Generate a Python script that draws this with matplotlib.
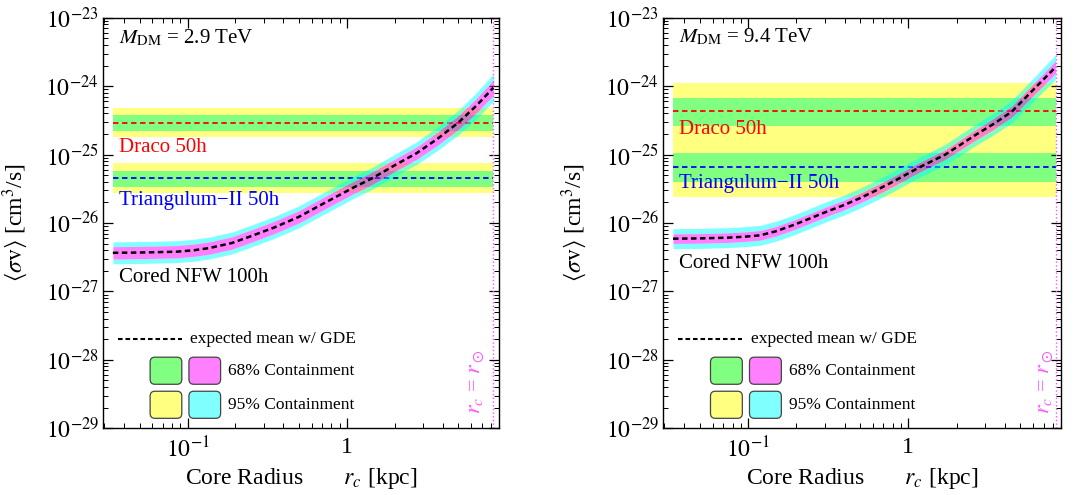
import numpy as np
import matplotlib
matplotlib.use("Agg")
import matplotlib.pyplot as plt
from matplotlib.patches import FancyBboxPatch
from matplotlib.ticker import FuncFormatter, FixedLocator, NullFormatter

plt.rcParams['font.family'] = ['Liberation Serif', 'DejaVu Serif']
plt.rcParams['mathtext.fontset'] = 'stix'

# expected mean <sigma v> vs core radius (kpc)
rc_left = [0.034, 0.05, 0.085, 0.11, 0.137, 0.19, 0.245, 0.35, 0.5, 0.66, 0.88,
           1.1, 1.44, 2.0, 2.74, 3.7, 5.0, 6.5, 8.3]
sv_left = [3.66e-27, 3.7e-27, 3.8e-27, 4.0e-27, 4.3e-27, 5.1e-27, 6.3e-27, 8.6e-27,
           1.23e-26, 1.75e-26, 2.5e-26, 3.3e-26, 4.5e-26, 7.0e-26, 1.05e-25,
           1.7e-25, 2.93e-25, 5.2e-25, 9.5e-25]
rc_right = [0.034, 0.05, 0.074, 0.095, 0.119, 0.15, 0.191, 0.24, 0.308, 0.39, 0.496,
            0.63, 0.80, 1.17, 1.7, 2.63, 3.4, 4.43, 6.2, 8.3]
sv_right = [5.9e-27, 5.95e-27, 6.1e-27, 6.3e-27, 6.6e-27, 7.6e-27, 9.3e-27, 1.15e-26,
            1.46e-26, 1.8e-26, 2.29e-26, 3.0e-26, 4.0e-26, 6.5e-26, 1.0e-25,
            1.94e-25, 2.8e-25, 4.25e-25, 9.5e-25, 1.9e-24]

# half widths of the containment bands in decades
w68_left = [0.09] * 15 + [0.095, 0.1, 0.105, 0.11]
w95_left = [0.16] * 14 + [0.165, 0.17, 0.18, 0.19, 0.2]
w68_right = [0.07] * 15 + [0.075, 0.08, 0.08, 0.085, 0.09]
w95_right = [0.146] * 14 + [0.15, 0.155, 0.16, 0.165, 0.17, 0.18]

# dwarf limits: 95% low, 68% low, mean, 68% high, 95% high
draco_left = [1.79e-25, 2.24e-25, 2.93e-25, 3.8e-25, 4.87e-25]
tri_left = [2.71e-26, 3.39e-26, 4.5e-26, 5.75e-26, 7.45e-26]
draco_right = [1.67e-25, 2.63e-25, 4.27e-25, 6.7e-25, 1.11e-24]
tri_right = [2.42e-26, 4.0e-26, 6.5e-26, 1.05e-25, 1.67e-25]

masses = ["2.9", "9.4"]
r_sun = 8.3

# axis ticks
x_major = [0.1, 1.0]
x_minor = [0.03, 0.04, 0.05, 0.06, 0.07, 0.08, 0.09, 0.2, 0.3, 0.4, 0.5, 0.6,
           0.7, 0.8, 0.9, 2, 3, 4, 5, 6, 7, 8, 9]
y_exps = [-29, -28, -27, -26, -25, -24, -23]

YELLOW = "#ffff80"
GREEN = "#80ff80"


def xfmt(v, pos):
    if abs(v - 1) < 1e-9:
        return "1"
    e = int(round(np.log10(v)))
    return r"$10^{%d}$" % e


def yfmt(v, pos):
    e = int(round(np.log10(v)))
    return r"$10^{%d}$" % e


def panel(ax, rc, sv, w68, w95, draco, tri, mass, txt_y, rlab_x):
    x0, x1 = rc[0], rc[-1]
    for band in (draco, tri):
        ax.fill_between([x0, x1], band[0], band[4], color=YELLOW, lw=0, zorder=1)
    for band in (draco, tri):
        ax.fill_between([x0, x1], band[1], band[3], color=GREEN, lw=0, zorder=1.1)
    ax.plot([x0, x1], [draco[2]] * 2, color="red", ls=(0, (3, 2)), lw=1.3, zorder=2)
    ax.plot([x0, x1], [tri[2]] * 2, color="blue", ls=(0, (3, 2)), lw=1.3, zorder=2)

    rc = np.array(rc)
    sv = np.array(sv)
    lo68 = sv / 10 ** np.array(w68)
    hi68 = sv * 10 ** np.array(w68)
    lo95 = sv / 10 ** np.array(w95)
    hi95 = sv * 10 ** np.array(w95)
    ax.fill_between(rc, lo95, lo68, color="cyan", alpha=0.5, lw=0, zorder=3)
    ax.fill_between(rc, hi68, hi95, color="cyan", alpha=0.5, lw=0, zorder=3)
    ax.fill_between(rc, lo68, hi68, color="magenta", alpha=0.5, lw=0, zorder=3)
    ax.plot(rc, sv, color="black", ls=(0, (2.2, 1.4)), lw=1.8, zorder=4)

    ax.axvline(r_sun, color="#ff55ff", ls=":", lw=1.0, zorder=2)

    ax.set_xscale("log")
    ax.set_yscale("log")
    ax.set_xlim(0.0295, 9.0)
    ax.set_ylim(1e-29, 1e-23)
    y_major = [10.0 ** e for e in y_exps]
    y_minor = [m * 10.0 ** e for e in y_exps[:-1] for m in range(2, 10)]
    ax.xaxis.set_major_locator(FixedLocator(x_major))
    ax.xaxis.set_minor_locator(FixedLocator(x_minor))
    ax.yaxis.set_major_locator(FixedLocator(y_major))
    ax.yaxis.set_minor_locator(FixedLocator(y_minor))
    ax.xaxis.set_major_formatter(FuncFormatter(xfmt))
    ax.yaxis.set_major_formatter(FuncFormatter(yfmt))
    ax.xaxis.set_minor_formatter(NullFormatter())
    ax.yaxis.set_minor_formatter(NullFormatter())
    ax.tick_params(which="both", direction="in", top=True, right=True, labelsize=17)
    ax.tick_params(which="major", length=7, width=0.9)
    ax.tick_params(which="minor", length=3.5, width=0.7)
    ax.tick_params(axis="x", pad=6)
    ax.tick_params(axis="y", pad=3)
    for s in ax.spines.values():
        s.set_linewidth(1.0)

    ax.set_ylabel(r"$\langle \sigma \mathrm{v} \rangle$ [cm$^3$/s]", fontsize=17)
    ax.set_xlabel(r"Core Radius       $r_c$ [kpc]", fontsize=17, va="center")

    tr = ax.transAxes
    ax.text(0.04, txt_y[0], r"$M_{\rm DM}$ = %s TeV" % mass, transform=tr,
            fontsize=15, va="center")
    ax.text(0.04, txt_y[1], "Draco 50h", transform=tr, fontsize=15,
            color="red", va="center")
    ax.text(0.04, txt_y[2], "Triangulum\u2212II 50h", transform=tr, fontsize=15,
            color="blue", va="center")
    ax.text(0.04, txt_y[3], "Cored NFW 100h", transform=tr, fontsize=15,
            va="center")

    # legend
    ax.plot([0.038, 0.199], [0.217, 0.217], transform=tr, color="black",
            ls=(0, (2.2, 1.4)), lw=1.5, zorder=5)
    ax.text(0.22, 0.217, "expected mean w/ GDE", transform=tr, fontsize=12.5,
            va="center")
    for (x, y, c) in [(0.119, 0.107, GREEN), (0.217, 0.107, "#ff80ff"),
                      (0.119, 0.024, YELLOW), (0.217, 0.024, "#80ffff")]:
        ax.add_patch(FancyBboxPatch((x + 0.012, y + 0.012), 0.08 - 0.024, 0.066 - 0.024,
                                    boxstyle="round,pad=0.012", transform=tr,
                                    facecolor=c, edgecolor="#444444", lw=0.9,
                                    zorder=5))
    ax.text(0.316, 0.14, "68% Containment", transform=tr, fontsize=12.5, va="center")
    ax.text(0.316, 0.057, "95% Containment", transform=tr, fontsize=12.5, va="center")
    ax.text(rlab_x, 0.112, r"$r_c$ = $r_\odot$", transform=tr, fontsize=16,
            color="#ff55ff", rotation=90, ha="center", va="center")


fig = plt.figure(figsize=(10.73, 4.95), dpi=100)
axl = fig.add_axes([0.096, 0.135, 0.369, 0.829])
axr = fig.add_axes([0.618, 0.135, 0.371, 0.829])

panel(axl, rc_left, sv_left, w68_left, w95_left, draco_left, tri_left,
      masses[0], [0.951, 0.685, 0.554, 0.368], 0.944)
panel(axr, rc_right, sv_right, w68_right, w95_right, draco_right, tri_right,
      masses[1], [0.954, 0.727, 0.597, 0.402], 0.96)

for ax in (axl, axr):
    ax.yaxis.set_label_coords(-0.185, 0.5)
    ax.xaxis.set_label_coords(0.5, -0.122)

fig.savefig("out.png", dpi=100)
